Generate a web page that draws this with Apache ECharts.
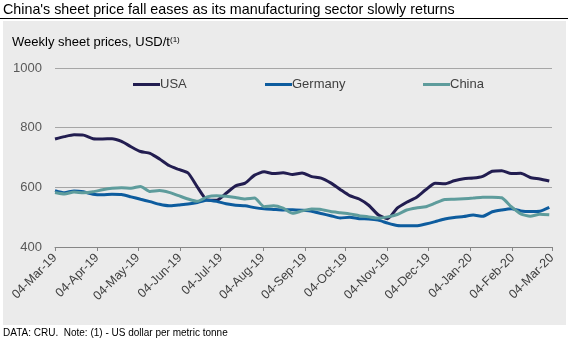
<!DOCTYPE html>
<html>
<head>
<meta charset="utf-8">
<script src="https://cdn.jsdelivr.net/npm/echarts@6/dist/echarts.min.js"></script>
<style>
html,body{margin:0;padding:0;background:#fff;}
#c{width:568px;height:344px;}
</style>
</head>
<body>
<div id="c"></div>
<script>
// Weekly dates (Mondays)
var weekDates = [
 "2019-03-04","2019-03-11","2019-03-18","2019-03-25",
 "2019-04-01","2019-04-08","2019-04-15","2019-04-22","2019-04-29",
 "2019-05-06","2019-05-13","2019-05-20","2019-05-27",
 "2019-06-03","2019-06-10","2019-06-17","2019-06-24",
 "2019-07-01","2019-07-08","2019-07-15","2019-07-22","2019-07-29",
 "2019-08-05","2019-08-12","2019-08-19","2019-08-26",
 "2019-09-02","2019-09-09","2019-09-16","2019-09-23","2019-09-30",
 "2019-10-07","2019-10-14","2019-10-21","2019-10-28",
 "2019-11-04","2019-11-11","2019-11-18","2019-11-25",
 "2019-12-02","2019-12-09","2019-12-16","2019-12-23","2019-12-30",
 "2020-01-06","2020-01-13","2020-01-20","2020-01-27",
 "2020-02-03","2020-02-10","2020-02-17","2020-02-24",
 "2020-03-02"
];
var usa = [762,770,776,775,763,762,763,754,736,720,714,695,673,660,648,600,558,557,580,605,614,641,652,646,649,643,648,636,631,615,593,572,561,540,508,495,530,550,566,592,614,612,622,629,631,637,654,656,646,647,633,628,621];
var germany = [589,582,588,585,577,575,577,576,568,560,552,543,538,541,544,549,557,553,545,540,538,532,528,526,524,525,523,520,512,505,497,500,495,494,490,480,472,471,471,477,485,494,499,502,507,503,518,524,528,521,519,520,533];
var china = [583,578,584,582,585,592,597,599,597,603,586,589,583,572,561,553,568,572,570,566,561,564,535,538,530,513,521,527,526,519,515,511,505,501,497,501,509,524,531,535,547,559,560,562,564,567,567,565,535,511,503,510,508];
var tickLabels = ["04-Mar-19","04-Apr-19","04-May-19","04-Jun-19","04-Jul-19","04-Aug-19","04-Sep-19","04-Oct-19","04-Nov-19","04-Dec-19","04-Jan-20","04-Feb-20","04-Mar-20"];
var yTicks = [400, 600, 800, 1000];

var MONTHS = ["Jan","Feb","Mar","Apr","May","Jun","Jul","Aug","Sep","Oct","Nov","Dec"];
var DAY = 86400000;
function utc(y,m,d){ return Date.UTC(y,m,d); }
var t0 = utc(2019,2,4);
function dayIso(s){ var p=s.split("-"); return Math.round((utc(+p[0], +p[1]-1, +p[2]) - t0)/DAY); }
function dayLabel(s){ var p=s.split("-"); return Math.round((utc(2000+ +p[2], MONTHS.indexOf(p[1]), +p[0]) - t0)/DAY); }
var tickDays = tickLabels.map(dayLabel);
function pairs(vals){ return vals.map(function(v,i){ return [dayIso(weekDates[i]), v]; }); }
function fmt(v){
  var i = tickDays.indexOf(Math.round(v));
  return i >= 0 ? tickLabels[i] : "";
}

var colors = {USA:"#221d50", Germany:"#0d5c9e", China:"#5e9c9c"};
var chart = echarts.init(document.getElementById("c"), null, {renderer:"canvas"});
var font = "Arial, 'Liberation Sans', sans-serif";
function leg(name, left){
  return {
    data:[name], left:left, top:73, icon:"rect", itemWidth:27, itemHeight:3, itemGap:0,
    textStyle:{fontFamily:font, fontSize:13, color:"#404040", padding:[0,0,0,-5]}
  };
}
chart.setOption({
  animation:false,
  backgroundColor:"#ffffff",
  graphic:[
    {type:"rect", left:3, top:21, shape:{width:563, height:304}, style:{fill:"#ebebeb"}, z:-10},
    {type:"rect", left:0, top:18, shape:{width:568, height:1}, style:{fill:"#000000"}, z:-5}
  ],
  title:[
    {text:"China's sheet price fall eases as its manufacturing sector slowly returns", left:3, top:3, padding:0,
     textStyle:{fontFamily:font, fontSize:14.3, fontWeight:"normal", color:"#000"}},
    {text:"Weekly sheet prices, USD/t{s|(1)}", left:12, top:36, padding:0,
     textStyle:{fontFamily:font, fontSize:13, fontWeight:"normal", color:"#000",
       rich:{s:{fontFamily:font, fontSize:8, color:"#000", verticalAlign:"top", lineHeight:8, padding:[0,0,6,0]}}}},
    {text:"DATA: CRU.  Note: (1) - US dollar per metric tonne", left:3, top:328, padding:0,
     textStyle:{fontFamily:font, fontSize:10, fontWeight:"normal", color:"#000"}}
  ],
  legend:[leg("USA",128), leg("Germany",260), leg("China",418)],
  grid:{left:55, right:16, top:68, bottom:97, containLabel:false},
  xAxis:{
    type:"value", min:tickDays[0], max:tickDays[tickDays.length-1],
    axisLine:{show:true, lineStyle:{color:"#868686", width:1}},
    axisTick:{show:true, length:4, customValues:tickDays, lineStyle:{color:"#868686"}},
    axisLabel:{customValues:tickDays, rotate:45, margin:9, fontFamily:font, fontSize:12.5, color:"#404040",
      formatter:function(v){ return fmt(v); }, hideOverlap:false, showMinLabel:true, showMaxLabel:true},
    splitLine:{show:false}
  },
  yAxis:{
    type:"value", min:yTicks[0], max:yTicks[yTicks.length-1], interval:200,
    axisLine:{show:false}, axisTick:{show:false},
    axisLabel:{margin:13, fontFamily:font, fontSize:13, color:"#595959", formatter:function(v){ return String(v); }},
    splitLine:{lineStyle:{color:"#a6a6a6", width:1}}
  },
  series:[
    {name:"USA", type:"line", data:pairs(usa), showSymbol:false, smooth:0.2, color:colors.USA, lineStyle:{width:3, color:colors.USA}},
    {name:"Germany", type:"line", data:pairs(germany), showSymbol:false, smooth:0.2, color:colors.Germany, lineStyle:{width:3, color:colors.Germany}},
    {name:"China", type:"line", data:pairs(china), showSymbol:false, smooth:0.2, color:colors.China, lineStyle:{width:3, color:colors.China}}
  ]
});
</script>
</body>
</html>
